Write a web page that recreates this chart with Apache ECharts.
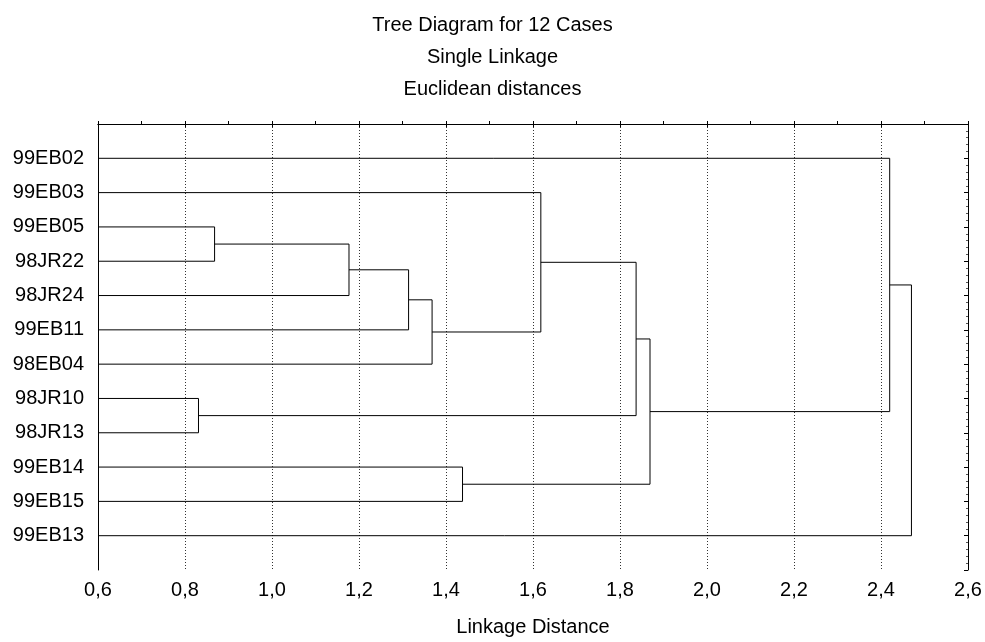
<!DOCTYPE html>
<html>
<head>
<meta charset="utf-8">
<script src="https://cdn.jsdelivr.net/npm/echarts@6/dist/echarts.min.js"></script>
<style>html,body{margin:0;padding:0;background:#fff;}#c{width:985px;height:642px;}</style>
</head>
<body>
<div id="c"></div>
<script>
// Cases (leaves) in display order, top to bottom
const cases = ['99EB02','99EB03','99EB05','98JR22','98JR24','99EB11','98EB04','98JR10','98JR13','99EB14','99EB15','99EB13'];
// Merge steps: cluster A index, cluster B index (leaves 0..11, merged nodes 12+), linkage distance
const mergeA = [7, 2, 13, 14, 15, 9, 1, 18, 19, 0, 21];
const mergeB = [8, 3, 4, 5, 6, 10, 16, 12, 17, 20, 11];
const mergeHeight = [0.831, 0.868, 1.177, 1.314, 1.368, 1.438, 1.618, 1.837, 1.869, 2.420, 2.470];
const xTicks = ['0,6','0,8','1,0','1,2','1,4','1,6','1,8','2,0','2,2','2,4','2,6'];
const titles = ['Tree Diagram for 12 Cases', 'Single Linkage', 'Euclidean distances'];

const xMin = 0.6, xMax = 2.6;
const nodeX = cases.map(() => xMin);
const nodeY = cases.map((c, i) => i + 1);
const series = [];
for (let k = 0; k < mergeA.length; k++) {
  const a = mergeA[k], b = mergeB[k], h = mergeHeight[k];
  series.push({
    type: 'line', xAxisIndex: 0, yAxisIndex: 0,
    data: [[nodeX[a], nodeY[a]], [h, nodeY[a]], [h, nodeY[b]], [nodeX[b], nodeY[b]]],
    showSymbol: false, symbol: 'none', silent: true,
    lineStyle: { color: '#000', width: 1 }
  });
  nodeX.push(h);
  nodeY.push((nodeY[a] + nodeY[b]) / 2);
}

const font = 'Liberation Sans, Arial, sans-serif';
const chart = echarts.init(document.getElementById('c'), null, { renderer: 'canvas' });
chart.setOption({
  animation: false,
  backgroundColor: '#fff',
  title: titles.map((t, i) => ({
    text: t, left: 'center', top: [10, 42, 74][i],
    textStyle: { fontFamily: font, fontSize: 20, fontWeight: 'normal', color: '#000', lineHeight: 20 }
  })),
  grid: { left: 98, right: 17, top: 124, bottom: 70, containLabel: false },
  xAxis: [{
    type: 'value', min: xMin, max: xMax, interval: 0.2, position: 'bottom',
    name: 'Linkage Distance', nameLocation: 'middle', nameGap: 47,
    nameTextStyle: { fontFamily: font, fontSize: 20, color: '#000' },
    axisLine: { show: true, lineStyle: { color: '#000', width: 1 } },
    axisTick: { show: true, inside: true, length: 3, lineStyle: { color: '#000' } },
    minorTick: { show: true, splitNumber: 2, length: 3, lineStyle: { color: '#000' } },
    axisLabel: { fontFamily: font, fontSize: 20, color: '#000', margin: 10,
      formatter: v => xTicks[Math.round((v - xMin) / 0.2)] || '' },
    splitLine: { show: true, lineStyle: { color: '#333', width: 1, type: [1, 2] } }
  }, {
    type: 'value', min: xMin, max: xMax, interval: 0.2, position: 'top',
    axisLine: { show: true, lineStyle: { color: '#000', width: 1 } },
    axisTick: { show: true, inside: true, length: 3, lineStyle: { color: '#000' } },
    axisLabel: { show: false }, splitLine: { show: false }
  }],
  yAxis: [{
    type: 'value', min: 0, max: 13, interval: 1, inverse: true, position: 'left',
    axisLine: { show: true, lineStyle: { color: '#000', width: 1 } },
    axisTick: { show: false },
    axisLabel: { fontFamily: font, fontSize: 20, color: '#000', margin: 14,
      formatter: v => cases[v - 1] || '' },
    splitLine: { show: false }
  }, {
    type: 'value', min: 0, max: 13, interval: 1, inverse: true, position: 'right',
    axisLine: { show: true, lineStyle: { color: '#000', width: 1 } },
    axisTick: { show: true, inside: true, length: 4, lineStyle: { color: '#000' } },
    minorTick: { show: true, splitNumber: 5, length: 2, lineStyle: { color: '#555' } },
    axisLabel: { show: false }, splitLine: { show: false }
  }],
  series: series
});
</script>
</body>
</html>
